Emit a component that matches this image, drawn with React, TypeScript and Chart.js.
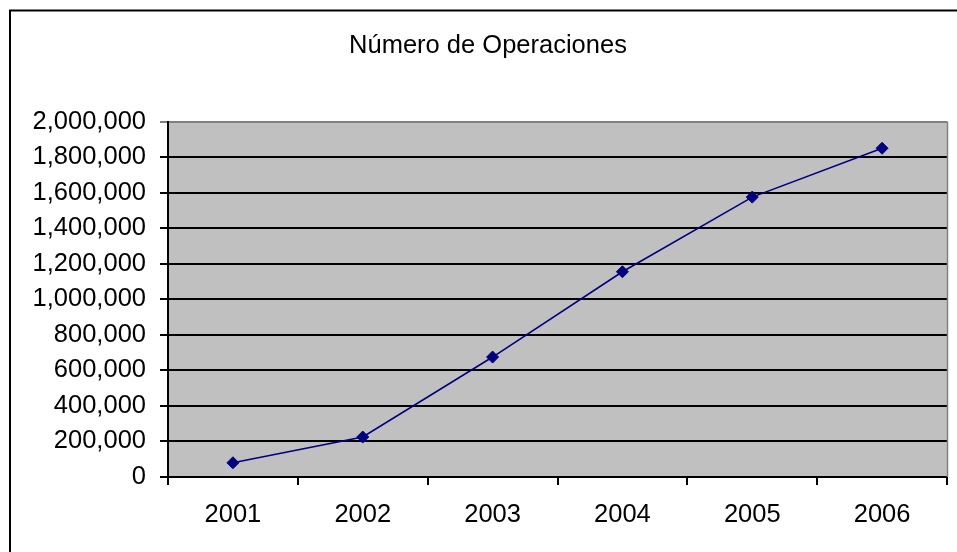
import React, { useEffect, useRef } from "react";
import { Chart, registerables } from "chart.js";

Chart.register(...registerables);

// Yearly number of operations
const years = ["2001", "2002", "2003", "2004", "2005", "2006"];
const operations = [80000, 225000, 675000, 1155000, 1575000, 1850000];
const yMin = 0;
const yMax = 2000000;
const yStep = 200000;
const chartTitle = "Número de Operaciones";

const FONT = "'Liberation Sans', Arial, sans-serif";
const FONT_SIZE = 25.5;

// Grey plot background, grey plot frame edge and the outer black frame
const framePlugin = {
  id: "frame",
  beforeDraw(chart: any) {
    const { ctx, chartArea } = chart;
    ctx.save();
    ctx.fillStyle = "#C0C0C0";
    ctx.fillRect(chartArea.left, chartArea.top, chartArea.right - chartArea.left, chartArea.bottom - chartArea.top);
    ctx.restore();
  },
  afterDraw(chart: any) {
    const { ctx, chartArea } = chart;
    ctx.save();
    ctx.strokeStyle = "#808080";
    ctx.lineWidth = 1.5;
    ctx.beginPath();
    ctx.moveTo(chartArea.right + 0.5, chartArea.top);
    ctx.lineTo(chartArea.right + 0.5, chartArea.bottom);
    ctx.stroke();
    ctx.strokeStyle = "#000";
    ctx.lineWidth = 2;
    ctx.beginPath();
    ctx.moveTo(10, chart.height + 10);
    ctx.lineTo(10, 10.5);
    ctx.lineTo(chart.width + 10, 10.5);
    ctx.stroke();
    ctx.restore();
  },
};

export default function App() {
  const canvasRef = useRef<HTMLCanvasElement | null>(null);

  useEffect(() => {
    if (!canvasRef.current) return;
    const chart = new Chart(canvasRef.current, {
      type: "line",
      data: {
        labels: years,
        datasets: [
          {
            data: operations,
            borderColor: "#000080",
            backgroundColor: "#000080",
            borderWidth: 1.6,
            pointStyle: "rectRot",
            pointRadius: 6,
            pointBorderWidth: 1,
            pointBorderColor: "#000080",
            tension: 0,
          },
        ],
      },
      options: {
        responsive: false,
        animation: false,
        layout: { padding: { left: 29, right: 10, top: 0, bottom: 0 } },
        plugins: {
          legend: { display: false },
          tooltip: { enabled: false },
          title: {
            display: true,
            text: chartTitle,
            color: "#000",
            font: { family: FONT, size: FONT_SIZE, weight: "normal" },
            padding: { top: 31, bottom: 60 },
          },
        },
        scales: {
          x: {
            offset: true,
            grid: {
              offset: true,
              drawOnChartArea: false,
              drawTicks: true,
              tickLength: 8,
              color: "#000",
              lineWidth: 2,
            },
            border: { display: true, color: "#000", width: 2 },
            ticks: {
              color: "#000",
              font: { family: FONT, size: FONT_SIZE },
              padding: 15,
              maxRotation: 0,
            },
            afterFit(scale: any) {
              scale.height = 75;
            },
          },
          y: {
            min: yMin,
            max: yMax,
            grid: {
              drawTicks: true,
              tickLength: 8,
              lineWidth: 2,
              color: (c: any) => (c.tick && c.tick.value === yMax ? "#808080" : "#000"),
            },
            border: { display: true, color: "#000", width: 2 },
            ticks: {
              stepSize: yStep,
              color: "#000",
              font: { family: FONT, size: FONT_SIZE },
              padding: 14,
              callback: (v: any) => Number(v).toLocaleString("en-US"),
            },
            afterFit(scale: any) {
              scale.width = 139;
            },
          },
        },
      },
      plugins: [framePlugin],
    });
    return () => chart.destroy();
  }, []);

  return (
    <div style={{ position: "fixed", left: 0, top: 0, width: 957, height: 552, overflow: "hidden", background: "#fff" }}>
      <canvas ref={canvasRef} width={957} height={552} style={{ display: "block" }} />
    </div>
  );
}
